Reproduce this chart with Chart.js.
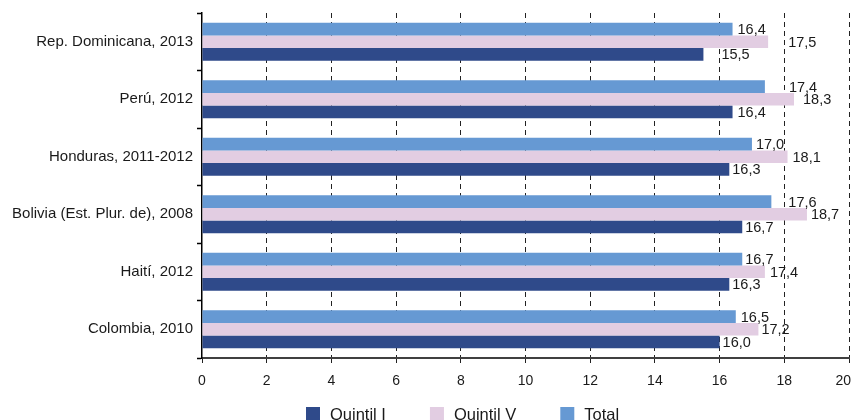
<!DOCTYPE html>
<html>
<head>
<meta charset="utf-8">
<script src="https://cdn.jsdelivr.net/npm/chart.js@4.4.1/dist/chart.umd.min.js"></script>
<style>
    html, body { margin: 0; padding: 0; background: #ffffff; }
    #wrap { width: 853px; height: 420px; position: relative; }
</style>
</head>
<body>
<div id="wrap"><canvas id="chart"></canvas></div>
<script>
const countries = [
    "Rep. Dominicana, 2013",
    "Perú, 2012",
    "Honduras, 2011-2012",
    "Bolivia (Est. Plur. de), 2008",
    "Haití, 2012",
    "Colombia, 2010",
];
const totalValues = [16.4, 17.4, 17.0, 17.6, 16.7, 16.5];
const quintil5Values = [17.5, 18.3, 18.1, 18.7, 17.4, 17.2];
const quintil1Values = [15.5, 16.4, 16.3, 16.7, 16.3, 16.0];
const xTicks = [0, 2, 4, 6, 8, 10, 12, 14, 16, 18, 20];

// extra horizontal shift (px) of some value labels, per series
const totalLabelShift = [2, 21, 1, 14, 0, 2];
const quintil5LabelShift = [17, 6, 2, 1, 2, 0];
const quintil1LabelShift = [15, 2, 0, 0, 0, 0];

const fontFamily = "'Liberation Sans', Arial, sans-serif";
const textColor = "#1a1a1a";

// value labels written at the end of every bar
const barLabels = {
    id: "barLabels",
    afterDatasetsDraw(chart) {
        const ctx = chart.ctx;
        ctx.save();
        ctx.font = "14.5px " + fontFamily;
        ctx.fillStyle = textColor;
        ctx.textAlign = "left";
        ctx.textBaseline = "middle";
        chart.data.datasets.forEach((ds, i) => {
            const meta = chart.getDatasetMeta(i);
            meta.data.forEach((bar, j) => {
                const txt = ds.data[j].toFixed(1).replace(".", ",");
                ctx.fillText(txt, bar.x + 3 + ds.labelShift[j], bar.y + 1);
            });
        });
        ctx.restore();
    },
};

// legend row under the x axis, Quintil I first
const bottomLegend = {
    id: "bottomLegend",
    afterDraw(chart) {
        const ctx = chart.ctx;
        ctx.save();
        ctx.font = "16.5px " + fontFamily;
        ctx.textBaseline = "middle";
        let x = 306;
        const y = 407;
        chart.data.datasets.slice().reverse().forEach(ds => {
            ctx.fillStyle = ds.backgroundColor;
            ctx.fillRect(x, y, 14, 14);
            ctx.fillStyle = textColor;
            ctx.fillText(ds.label, x + 24, y + 8);
            x += 24 + ctx.measureText(ds.label).width + 44;
        });
        ctx.restore();
    },
};

const chartInstance = new Chart(document.querySelector("#chart"), {
    type: "bar",
    plugins: [barLabels, bottomLegend],
    data: {
        labels: countries,
        datasets: [
            { label: "Total", data: totalValues, backgroundColor: "#6699d3", labelShift: totalLabelShift },
            { label: "Quintil V", data: quintil5Values, backgroundColor: "#e2cde2", labelShift: quintil5LabelShift },
            { label: "Quintil I", data: quintil1Values, backgroundColor: "#2f4a8a", labelShift: quintil1LabelShift },
        ],
    },
    options: {
        indexAxis: "y",
        responsive: true,
        maintainAspectRatio: false,
        animation: false,
        datasets: {
            bar: {
                categoryPercentage: 0.66,
                barPercentage: 1,
                borderWidth: 0,
            },
        },
        layout: { padding: { top: 13, right: 4, left: 0, bottom: 34 } },
        plugins: {
            legend: { display: false },
            tooltip: { enabled: false },
        },
        scales: {
            x: {
                min: 0,
                max: 20,
                afterBuildTicks: axis => { axis.ticks = xTicks.map(v => ({ value: v })); },
                afterFit: axis => {
                    axis.height = 28;
                    axis.paddingLeft = 0;
                    axis.paddingRight = 0;
                },
                grid: {
                    color: ctx => (ctx.index === 0 ? "rgba(0,0,0,0)" : "#222222"),
                    lineWidth: 1,
                    tickLength: 5,
                    tickColor: "#222222",
                    tickBorderDash: [],
                },
                border: { display: true, color: "#404040", width: 2, dash: [5, 4] },
                ticks: {
                    color: textColor,
                    font: { family: fontFamily, size: 14 },
                    padding: 10,
                    maxRotation: 0,
                    // keep the last label inside the canvas
                    callback: v => (v === 20 ? v + "   " : String(v)),
                },
            },
            y: {
                afterFit: axis => { axis.width = 202; },
                grid: {
                    offset: true,
                    drawOnChartArea: false,
                    drawTicks: true,
                    tickLength: 5,
                    tickColor: "#000000",
                    tickWidth: 1.5,
                },
                border: { display: true, color: "#000000", width: 1.5 },
                ticks: {
                    color: textColor,
                    font: { family: fontFamily, size: 15 },
                    padding: 4,
                },
            },
        },
    },
});
</script>
</body>
</html>
